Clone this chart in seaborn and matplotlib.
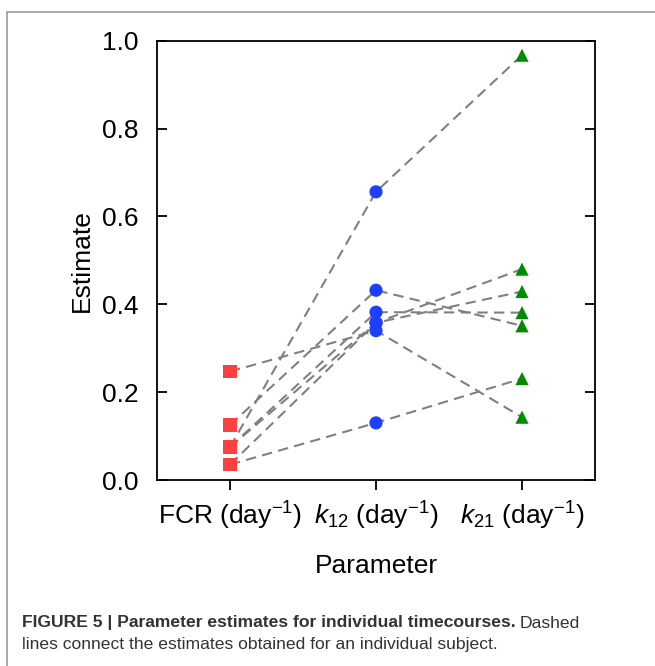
import numpy as np
import pandas as pd
import matplotlib
matplotlib.use("Agg")
import matplotlib.pyplot as plt
import matplotlib.patches as mpatches
import seaborn as sns

# ── Datos ────────────────────────────────────────────────────────────────────
PARAMS = ["FCR", "k12", "k21"]
TICK_LABELS = [r"FCR (day$^{-1}$)", r"$k_{12}$ (day$^{-1}$)", r"$k_{21}$ (day$^{-1}$)"]
SUBJECTS = [1, 2, 3, 4, 5, 6, 7]
FCR = [0.247, 0.075, 0.125, 0.075, 0.035, 0.035, 0.075]
K12 = [0.340, 0.656, 0.432, 0.382, 0.358, 0.130, 0.358]
K21 = [0.143, 0.967, 0.351, 0.381, 0.480, 0.231, 0.429]

df = pd.DataFrame({
    "subject": SUBJECTS * 3,
    "param": [p for p in PARAMS for _ in SUBJECTS],
    "value": FCR + K12 + K21,
})
df["pos"] = df["param"].map({p: i for i, p in enumerate(PARAMS)})

sns.set_style("ticks")
plt.rcParams["font.family"] = ["Liberation Sans", "DejaVu Sans"]
plt.rcParams["mathtext.fontset"] = "custom"
plt.rcParams["mathtext.rm"] = "Liberation Sans"
plt.rcParams["mathtext.it"] = "Liberation Sans:italic"
plt.rcParams["text.color"] = "black"
plt.rcParams["axes.labelcolor"] = "black"
plt.rcParams["xtick.color"] = "black"
plt.rcParams["ytick.color"] = "black"

fig = plt.figure(figsize=(6.55, 6.66), dpi=100)
ax = fig.add_axes([157 / 655, 1 - 480 / 666, 438 / 655, 439.3 / 666])

# líneas discontinuas por sujeto
sns.lineplot(data=df, x="pos", y="value", units="subject", estimator=None,
             color="#808080", linestyle=(0, (5, 3)), linewidth=1.5,
             sort=False, ax=ax, legend=False, zorder=1)

# marcadores por parámetro
sns.scatterplot(data=df, x="pos", y="value", hue="param", style="param",
                palette={"FCR": "#FF4040", "k12": "#1F3FFF", "k21": "#008C00"},
                markers={"FCR": "s", "k12": "o", "k21": "^"},
                s=90, linewidth=0, ax=ax, legend=False, zorder=3)

ax.set_xlim(-0.5, 2.5)
ax.set_ylim(0, 1.0)
ax.set_xticks(range(len(PARAMS)))
ax.set_xticklabels(TICK_LABELS, fontsize=19)
ax.set_yticks(np.arange(0, 1.01, 0.2))
ax.set_yticklabels([f"{v:.1f}" for v in np.arange(0, 1.01, 0.2)], fontsize=19)
ax.set_xlabel("Parameter", fontsize=19, labelpad=16)
ax.set_ylabel("Estimate", fontsize=19, labelpad=6)

for sp in ax.spines.values():
    sp.set_visible(True)
    sp.set_linewidth(1.3)
    sp.set_color("black")
ax.tick_params(axis="y", direction="in", length=7, width=1.3, right=True, pad=13)
ax.tick_params(axis="x", direction="out", length=7, width=1.3, top=False, pad=7)

# marco gris de la figura
frame = mpatches.Rectangle((7 / 655, -0.1), 1.2, 1.1 - 12 / 666,
                           transform=fig.transFigure, fill=False,
                           edgecolor="#999999", linewidth=1.2)
fig.patches.append(frame)

# pie de figura
cap_font = ["Liberation Sans Narrow", "Liberation Sans", "DejaVu Sans"]
t1 = fig.text(22 / 655, 1 - 623 / 666, "FIGURE 5 | Parameter estimates for individual timecourses.",
              fontsize=12.6, fontweight="bold", color="#333333", family=cap_font, va="center")
fig.canvas.draw()
bb = t1.get_window_extent()
fig.text(bb.x1 / 655 + 4 / 655, 1 - 623 / 666, "Dashed",
         fontsize=12.6, color="#333333", family=cap_font, va="center")
fig.text(22 / 655, 1 - 645 / 666, "lines connect the estimates obtained for an individual subject.",
         fontsize=12.6, color="#333333", family=cap_font, va="center")

fig.savefig("out.png", dpi=100)
